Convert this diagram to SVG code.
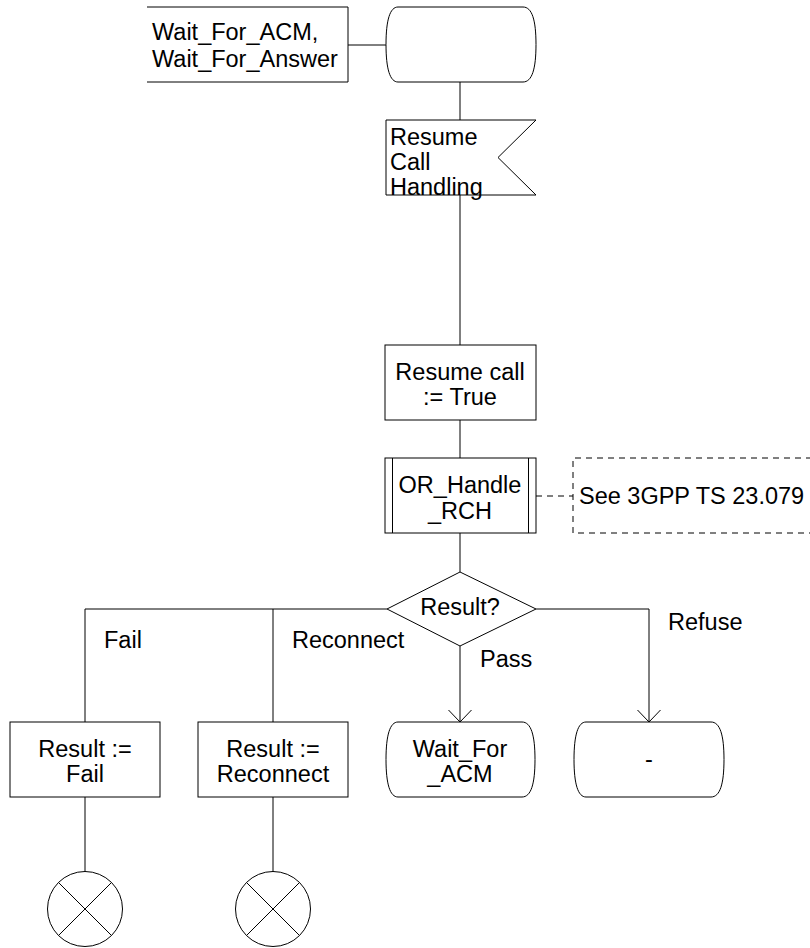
<svg xmlns="http://www.w3.org/2000/svg" width="810" height="948" viewBox="0 0 810 948">
<defs>
<style>
.s{fill:#fff;stroke:#000;stroke-width:1}
.l{fill:none;stroke:#000;stroke-width:1}
.d{fill:none;stroke:#000;stroke-width:1;stroke-dasharray:6,5}
text{font-family:"Liberation Sans",Arial,sans-serif;font-size:23.5px;fill:#000}
.c{text-anchor:middle}
</style>
</defs>
<rect width="810" height="948" fill="#fff"/>
<g id="connectors">
<line class="l" x1="348" y1="45" x2="386" y2="45"/>
<line class="l" x1="460" y1="82" x2="460" y2="120"/>
<line class="l" x1="460" y1="195" x2="460" y2="345"/>
<line class="l" x1="460" y1="420" x2="460" y2="458"/>
<line class="l" x1="460" y1="533" x2="460" y2="572"/>
<line class="d" x1="536" y1="496" x2="573" y2="496"/>
<polyline class="l" points="387,609 85,609 85,722"/>
<line class="l" x1="273" y1="609" x2="273" y2="722"/>
<line class="l" x1="85" y1="797" x2="85" y2="872"/>
<line class="l" x1="273" y1="797" x2="273" y2="872"/>
<line class="l" x1="460" y1="646" x2="460" y2="722"/>
<polyline class="l" points="448.5,710 460,722 471.5,710"/>
<polyline class="l" points="536,609 649,609 649,722"/>
<polyline class="l" points="637.5,710 649,722 660.5,710"/>
<text x="104" y="648">Fail</text>
<text x="292" y="648">Reconnect</text>
<text x="480" y="667">Pass</text>
<text x="668" y="630">Refuse</text>
</g>
<g id="textbox">
<polyline class="l" points="147,7 348,7 348,82 147,82"/>
<text x="152" y="40">Wait_For_ACM,</text>
<text x="152" y="67">Wait_For_Answer</text>
</g>
<g id="state_top">
<path class="s" d="M398,7 H523 C532,7 536,20 536,44.5 C536,69 532,82 523,82 H398 C390,82 386,69 386,44.5 C386,20 390,7 398,7 Z"/>
</g>
<g id="input_resume">
<polygon class="s" points="386,120 536,120 498,157.5 536,195 386,195"/>
<text x="390" y="145">Resume</text>
<text x="390" y="170">Call</text>
<text x="390" y="195">Handling</text>
</g>
<g id="task_resume">
<rect class="s" x="385" y="345" width="151" height="75"/>
<text class="c" x="460" y="380">Resume call</text>
<text class="c" x="460" y="405">:= True</text>
</g>
<g id="proc_or_handle">
<rect class="s" x="385" y="458" width="151" height="75"/>
<line class="l" x1="392.5" y1="458" x2="392.5" y2="533"/>
<line class="l" x1="528.5" y1="458" x2="528.5" y2="533"/>
<text class="c" x="460" y="493">OR_Handle</text>
<text class="c" x="460" y="519">_RCH</text>
</g>
<g id="comment">
<polyline class="d" points="812,458 573,458 573,533 812,533"/>
<text x="579" y="504">See 3GPP TS 23.079</text>
</g>
<g id="decision">
<polygon class="s" points="460,572 536,609 460,646 387,609"/>
<text class="c" x="460" y="615">Result?</text>
</g>
<g id="task_fail">
<rect class="s" x="10" y="722" width="150" height="75"/>
<text class="c" x="85" y="757">Result :=</text>
<text class="c" x="85" y="782">Fail</text>
</g>
<g id="task_reconnect">
<rect class="s" x="198" y="722" width="150" height="75"/>
<text class="c" x="273" y="757">Result :=</text>
<text class="c" x="273" y="782">Reconnect</text>
</g>
<g id="state_wait_acm">
<path class="s" d="M398,722 H522 C531,722 535,735 535,759.5 C535,784 531,797 522,797 H398 C390,797 386,784 386,759.5 C386,735 390,722 398,722 Z"/>
<text class="c" x="460" y="757">Wait_For</text>
<text class="c" x="460" y="782">_ACM</text>
</g>
<g id="state_dash">
<path class="s" d="M586,722 H711 C720,722 724,735 724,759.5 C724,784 720,797 711,797 H586 C578,797 574,784 574,759.5 C574,735 578,722 586,722 Z"/>
<text class="c" x="649" y="767">-</text>
</g>
<g id="stop_fail">
<circle class="s" cx="85" cy="909" r="37.5"/>
<line class="l" x1="58.5" y1="882.5" x2="111.5" y2="935.5"/>
<line class="l" x1="111.5" y1="882.5" x2="58.5" y2="935.5"/>
</g>
<g id="stop_reconnect">
<circle class="s" cx="273" cy="909" r="37.5"/>
<line class="l" x1="246.5" y1="882.5" x2="299.5" y2="935.5"/>
<line class="l" x1="299.5" y1="882.5" x2="246.5" y2="935.5"/>
</g>
</svg>
